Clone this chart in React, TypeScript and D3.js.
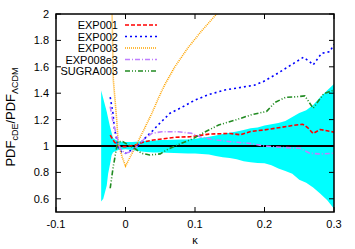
import React from "react";
import * as d3 from "d3";

const W = 355, H = 249;
const M = { left: 56, right: 21, top: 14, bottom: 37 };

const xTicks = [-0.1, 0, 0.1, 0.2, 0.3];
const yTicks = [0.6, 0.8, 1, 1.2, 1.4, 1.6, 1.8, 2];

// 1-sigma band
const bandK = [-0.035, -0.032, -0.03, -0.027, -0.025, -0.022, -0.02, -0.018, -0.015, -0.01, 0, 0.01, 0.02, 0.03, 0.04, 0.05, 0.06, 0.07, 0.08, 0.09, 0.1, 0.11, 0.12, 0.13, 0.14, 0.15, 0.16, 0.17, 0.18, 0.19, 0.2, 0.21, 0.22, 0.23, 0.24, 0.25, 0.26, 0.27, 0.28, 0.29, 0.3];
const bandLow = [0.58, 0.6, 0.64, 0.7, 0.79, 0.87, 0.93, 0.95, 0.96, 0.97, 0.975, 0.97, 0.96, 0.955, 0.95, 0.95, 0.948, 0.947, 0.945, 0.944, 0.943, 0.94, 0.935, 0.925, 0.915, 0.91, 0.9, 0.885, 0.876, 0.872, 0.869, 0.855, 0.83, 0.81, 0.79, 0.745, 0.722, 0.685, 0.64, 0.59, 0.525];
const bandHigh = [1.42, 1.36, 1.32, 1.26, 1.21, 1.14, 1.1, 1.06, 1.05, 1.035, 1.03, 1.03, 1.035, 1.04, 1.04, 1.045, 1.045, 1.048, 1.05, 1.05, 1.055, 1.062, 1.07, 1.08, 1.09, 1.1, 1.11, 1.122, 1.135, 1.14, 1.155, 1.165, 1.175, 1.19, 1.22, 1.25, 1.27, 1.31, 1.37, 1.42, 1.47];

// EXP001
const exp001K = [-0.022, -0.016, -0.01, -0.005, 0.0, 0.005, 0.014, 0.028, 0.04, 0.055, 0.071, 0.093, 0.12, 0.15, 0.165, 0.18, 0.2, 0.22, 0.24, 0.255, 0.262, 0.27, 0.28, 0.29, 0.3];
const exp001V = [1.083, 1.03, 1.0, 0.995, 0.995, 1.0, 1.007, 1.033, 1.045, 1.055, 1.066, 1.07, 1.09, 1.095, 1.085, 1.11, 1.122, 1.138, 1.155, 1.165, 1.14, 1.095, 1.125, 1.115, 1.105];

// EXP002
const exp002K = [-0.022, -0.018, -0.016, -0.013, -0.011, -0.006, 0.0, 0.011, 0.021, 0.03, 0.04, 0.047, 0.064, 0.08, 0.1, 0.12, 0.143, 0.167, 0.185, 0.198, 0.215, 0.234, 0.256, 0.265, 0.27, 0.282, 0.294, 0.3];
const exp002V = [1.37, 1.248, 1.134, 1.058, 0.995, 0.957, 0.945, 0.975, 1.02, 1.07, 1.12, 1.16, 1.248, 1.29, 1.348, 1.39, 1.424, 1.445, 1.46, 1.487, 1.538, 1.6, 1.672, 1.639, 1.614, 1.702, 1.715, 1.77];

// EXP003
const exp003K = [-0.0195, -0.0175, -0.0127, -0.0104, -0.005, 0.0, 0.009, 0.018, 0.028, 0.038, 0.048, 0.057, 0.071, 0.09, 0.11, 0.131, 0.14];
const exp003V = [2.05, 1.5, 1.2, 1.02, 0.92, 0.848, 0.94, 1.033, 1.14, 1.248, 1.37, 1.47, 1.6, 1.745, 1.875, 2.0, 2.05];

// EXP008e3
const exp008K = [-0.022, -0.018, -0.013, -0.008, -0.001, 0.009, 0.016, 0.028, 0.038, 0.052, 0.076, 0.095, 0.107, 0.125, 0.15, 0.179, 0.2, 0.222, 0.251, 0.265, 0.28, 0.3];
const exp008V = [1.298, 1.184, 1.083, 0.983, 0.945, 0.957, 0.995, 1.058, 1.096, 1.108, 1.108, 1.096, 1.07, 1.05, 1.033, 1.02, 1.0, 0.99, 0.983, 0.945, 0.94, 0.945];

// SUGRA003
const sugraK = [-0.022, -0.018, -0.013, -0.011, -0.004, 0.004, 0.013, 0.023, 0.035, 0.05, 0.059, 0.078, 0.098, 0.112, 0.134, 0.16, 0.182, 0.203, 0.215, 0.23, 0.246, 0.258, 0.27, 0.285, 0.3];
const sugraV = [0.68, 0.831, 0.983, 1.033, 1.033, 1.008, 0.983, 0.945, 0.932, 0.94, 0.97, 1.015, 1.058, 1.1, 1.159, 1.2, 1.238, 1.262, 1.33, 1.368, 1.373, 1.38, 1.286, 1.395, 1.424];

const seriesNames = ["EXP001", "EXP002", "EXP003", "EXP008e3", "SUGRA003"];
const seriesK = [exp001K, exp002K, exp003K, exp008K, sugraK];
const seriesV = [exp001V, exp002V, exp003V, exp008V, sugraV];
const seriesColors = ["#ff0000", "#0000ff", "#ffa500", "#bf7fff", "#228b22"];
const seriesDash = ["4,2", "2,3", "1,1", "5,2,1,2", "5,2,1,2,1,2"];

export default function App() {
  const x = d3.scaleLinear().domain([-0.1, 0.3]).range([M.left, W - M.right]);
  const y = d3.scaleLinear().domain([0.5, 2]).range([H - M.bottom, M.top]);
  const pw = W - M.left - M.right;
  const ph = H - M.top - M.bottom;

  const area = d3.area<number>()
    .x((_, i) => x(bandK[i]))
    .y0((_, i) => y(bandLow[i]))
    .y1((_, i) => y(bandHigh[i]));

  const font = "'Liberation Sans', Arial, sans-serif";
  const tickLen = 5;

  return (
    <svg width={W} height={H} style={{ position: "fixed", left: 0, top: 0, background: "#fff" }} fontFamily={font}>
      <defs>
        <clipPath id="plot">
          <rect x={M.left} y={M.top} width={pw} height={ph} />
        </clipPath>
      </defs>
      <g clipPath="url(#plot)">
        <path d={area(bandK) || ""} fill="#00ffff" stroke="none" />
        <line x1={M.left} x2={W - M.right} y1={y(1)} y2={y(1)} stroke="#000" strokeWidth={2} />
        {seriesNames.map((n, s) => {
          const line = d3.line<number>()
            .x((_, i) => x(seriesK[s][i]))
            .y((_, i) => y(seriesV[s][i]));
          return (
            <path key={n} d={line(seriesK[s]) || ""} fill="none" stroke={seriesColors[s]}
              strokeWidth={1.6} strokeDasharray={seriesDash[s]} />
          );
        })}
      </g>
      {/* ticks */}
      {xTicks.map((t) => (
        <g key={"x" + t}>
          <line x1={x(t)} x2={x(t)} y1={H - M.bottom} y2={H - M.bottom - tickLen} stroke="#000" />
          <line x1={x(t)} x2={x(t)} y1={M.top} y2={M.top + tickLen} stroke="#000" />
          <text x={x(t)} y={H - M.bottom + 16} textAnchor="middle" fontSize={11}>{t}</text>
        </g>
      ))}
      {yTicks.map((t) => (
        <g key={"y" + t}>
          <line x1={M.left} x2={M.left + tickLen} y1={y(t)} y2={y(t)} stroke="#000" />
          <line x1={W - M.right} x2={W - M.right - tickLen} y1={y(t)} y2={y(t)} stroke="#000" />
          <text x={M.left - 7} y={y(t) + 4} textAnchor="end" fontSize={11}>{t}</text>
        </g>
      ))}
      <rect x={M.left} y={M.top} width={pw} height={ph} fill="none" stroke="#000" strokeWidth={1.5} />
      {/* legend */}
      {seriesNames.map((n, s) => {
        const ly = 25 + s * 11.5;
        return (
          <g key={"leg" + n}>
            <text x={118} y={ly + 4} textAnchor="end" fontSize={11}>{n}</text>
            <line x1={125} x2={157} y1={ly} y2={ly} stroke={seriesColors[s]} strokeWidth={1.6} strokeDasharray={seriesDash[s]} />
          </g>
        );
      })}
      {/* axis labels */}
      <text x={x(0.1)} y={244} textAnchor="middle" fontSize={11}>κ</text>
      <text transform={`translate(15, 117) rotate(-90)`} textAnchor="middle" fontSize={13}>
        PDF<tspan fontSize={9} dy={3}>cDE</tspan><tspan dy={-3}>/PDF</tspan><tspan fontSize={9} dy={3}>ΛCDM</tspan>
      </text>
    </svg>
  );
}
